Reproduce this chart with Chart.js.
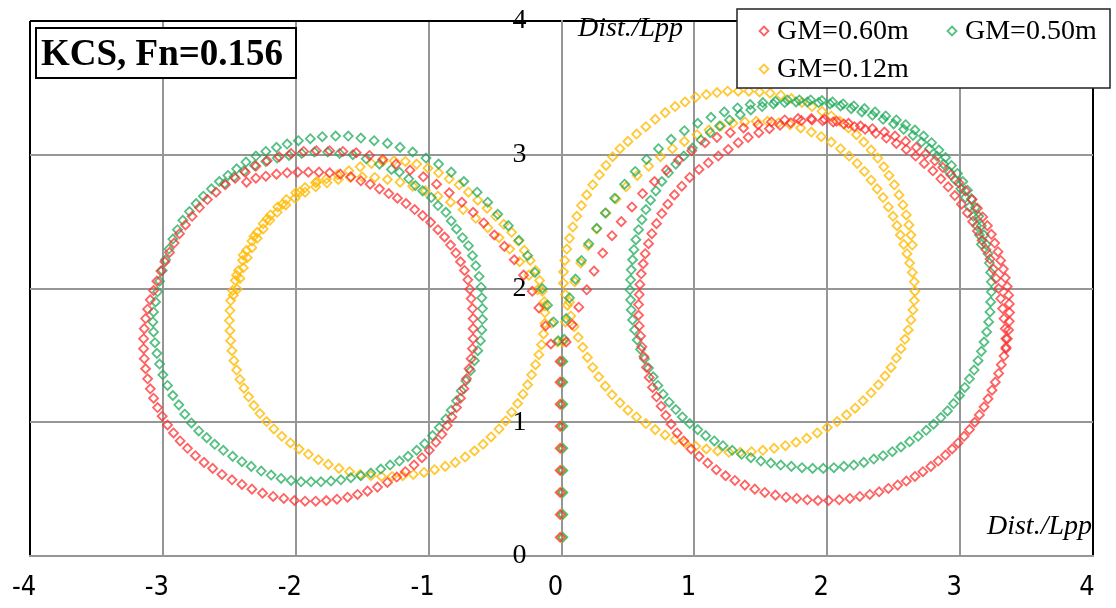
<!DOCTYPE html>
<html><head><meta charset="utf-8">
<script src="https://cdn.jsdelivr.net/npm/chart.js@4"></script>
<style>html,body{margin:0;padding:0;background:#fff;}canvas{display:block;}</style>
</head><body>
<canvas id="c" width="1116" height="608"></canvas>
<script>
// ---------- DATA ----------
const seriesNames = ['GM=0.60m', 'GM=0.50m', 'GM=0.12m'];
const titleText = 'KCS, Fn=0.156';
const axisTitle = 'Dist./Lpp';
const xTicks = [-4, -3, -2, -1, 0, 1, 2, 3, 4];
const yTicks = [0, 1, 2, 3, 4];

// straight approach (x, y)
const gm060_approach = [[-0.01,0.14],[-0.01,0.31],[-0.01,0.475],[-0.01,0.64],[-0.01,0.805],[-0.01,0.97],[-0.01,1.135],[-0.01,1.30],[-0.01,1.455]];
const gm050_approach = [[0.01,0.14],[0.01,0.31],[0.01,0.475],[0.01,0.64],[0.01,0.805],[0.01,0.97],[0.01,1.135],[0.01,1.30],[0.01,1.455]];
const gm012_approach = [[0,0.14],[0,0.31],[0,0.475],[0,0.64],[0,0.805],[0,0.97],[0,1.135],[0,1.30],[0,1.455]];

// starboard turn (right loop)
const gm060_stbd = [[0.035,1.60],[0.08,1.73],[0.13,1.86],[0.19,1.99],[0.245,2.13],[0.31,2.265],[0.38,2.395],[0.45,2.50],[0.53,2.61],[0.61,2.71],[0.70,2.80],[0.79,2.885],[0.88,2.96],[0.98,3.03],[1.08,3.09],[1.17,3.13],[1.27,3.165],[1.37,3.20],[1.48,3.225],[1.58,3.245],[1.68,3.26],[1.78,3.27],[1.88,3.27],[1.98,3.265],[2.07,3.25],[2.16,3.235],[2.25,3.215],[2.34,3.195],[2.43,3.17],[2.51,3.14],[2.59,3.10],[2.67,3.055],[2.74,3.005],[2.81,2.955],[2.87,2.905],[2.93,2.85],[2.99,2.79],[3.04,2.73],[3.09,2.665],[3.13,2.60],[3.17,2.535],[3.205,2.47],[3.235,2.405],[3.26,2.34],[3.285,2.275],[3.305,2.21],[3.325,2.145],[3.34,2.08],[3.355,2.015],[3.365,1.95],[3.37,1.885],[3.372,1.82],[3.37,1.755],[3.365,1.69],[3.355,1.625],[3.345,1.56],[3.33,1.495],[3.31,1.43],[3.29,1.365],[3.265,1.30],[3.24,1.24],[3.21,1.175],[3.18,1.115],[3.145,1.055],[3.11,1.0],[3.07,0.945],[3.03,0.895],[2.985,0.845],[2.94,0.80],[2.89,0.755],[2.835,0.71],[2.78,0.67],[2.72,0.63],[2.66,0.595],[2.595,0.56],[2.53,0.53],[2.46,0.505],[2.39,0.48],[2.32,0.46],[2.245,0.445],[2.17,0.43],[2.09,0.42],[2.01,0.415],[1.93,0.415],[1.85,0.42],[1.77,0.43],[1.69,0.44],[1.61,0.455],[1.53,0.475],[1.455,0.50],[1.38,0.53],[1.305,0.565],[1.235,0.60],[1.165,0.645],[1.10,0.695],[1.035,0.745],[0.975,0.80],[0.92,0.86],[0.87,0.92],[0.825,0.985],[0.785,1.05],[0.75,1.12],[0.715,1.19],[0.685,1.26],[0.66,1.335],[0.64,1.41],[0.62,1.49],[0.605,1.565],[0.595,1.645],[0.585,1.72],[0.58,1.80],[0.58,1.88],[0.585,1.955],[0.59,2.03],[0.60,2.11],[0.615,2.185],[0.63,2.26],[0.655,2.335],[0.68,2.41],[0.715,2.485],[0.755,2.56],[0.80,2.63],[0.85,2.70],[0.905,2.765],[0.965,2.83],[1.035,2.89],[1.105,2.94],[1.18,2.99],[1.255,3.04],[1.33,3.09],[1.405,3.13],[1.485,3.165],[1.565,3.195],[1.645,3.22],[1.725,3.24],[1.805,3.255],[1.885,3.26],[1.965,3.255],[2.045,3.245],[2.125,3.23],[2.205,3.21],[2.285,3.19],[2.365,3.16],[2.445,3.125],[2.52,3.085],[2.595,3.04],[2.665,2.99],[2.73,2.935],[2.795,2.88],[2.855,2.82],[2.91,2.76],[2.96,2.695],[3.01,2.63],[3.055,2.565],[3.095,2.50],[3.13,2.43],[3.165,2.36],[3.195,2.29],[3.225,2.22],[3.25,2.145],[3.27,2.075],[3.29,2.0],[3.305,1.925],[3.32,1.85],[3.33,1.775],[3.34,1.70],[3.345,1.625],[3.345,1.55]];

const gm050_stbd = [[0.02,1.62],[0.035,1.775],[0.06,1.93],[0.105,2.07],[0.15,2.21],[0.205,2.335],[0.265,2.45],[0.33,2.565],[0.40,2.675],[0.475,2.78],[0.555,2.875],[0.64,2.965],[0.73,3.045],[0.825,3.115],[0.925,3.18],[1.025,3.235],[1.125,3.28],[1.225,3.32],[1.325,3.35],[1.42,3.375],[1.515,3.39],[1.61,3.40],[1.70,3.41],[1.79,3.41],[1.875,3.41],[1.96,3.405],[2.04,3.395],[2.12,3.38],[2.20,3.365],[2.28,3.345],[2.36,3.32],[2.44,3.29],[2.52,3.26],[2.59,3.225],[2.66,3.185],[2.725,3.14],[2.785,3.09],[2.84,3.035],[2.89,2.98],[2.935,2.92],[2.98,2.86],[3.02,2.80],[3.055,2.735],[3.085,2.67],[3.115,2.605],[3.14,2.54],[3.16,2.47],[3.18,2.40],[3.195,2.33],[3.21,2.26],[3.22,2.19],[3.23,2.12],[3.235,2.05],[3.235,1.975],[3.23,1.90],[3.225,1.825],[3.215,1.75],[3.20,1.675],[3.18,1.60],[3.16,1.53],[3.135,1.46],[3.105,1.39],[3.07,1.325],[3.035,1.26],[2.995,1.20],[2.95,1.14],[2.905,1.085],[2.855,1.035],[2.80,0.985],[2.745,0.94],[2.685,0.895],[2.62,0.855],[2.555,0.815],[2.49,0.78],[2.42,0.75],[2.35,0.725],[2.275,0.70],[2.20,0.68],[2.125,0.67],[2.05,0.66],[1.97,0.655],[1.89,0.655],[1.81,0.66],[1.73,0.67],[1.65,0.68],[1.575,0.695],[1.50,0.71],[1.425,0.735],[1.355,0.76],[1.285,0.79],[1.215,0.825],[1.15,0.86],[1.085,0.90],[1.025,0.945],[0.965,0.99],[0.91,1.04],[0.86,1.095],[0.81,1.15],[0.765,1.21],[0.725,1.275],[0.69,1.34],[0.655,1.405],[0.625,1.475],[0.595,1.545],[0.57,1.615],[0.55,1.69],[0.535,1.765],[0.525,1.84],[0.52,1.915],[0.515,1.99],[0.52,2.065],[0.525,2.14],[0.535,2.215],[0.545,2.29],[0.56,2.365],[0.58,2.44],[0.605,2.515],[0.635,2.59],[0.67,2.66],[0.71,2.73],[0.755,2.80],[0.805,2.865],[0.86,2.93],[0.92,2.99],[0.985,3.05],[1.05,3.11],[1.12,3.165],[1.19,3.215],[1.265,3.26],[1.345,3.30],[1.425,3.335],[1.51,3.36],[1.595,3.38],[1.68,3.39],[1.765,3.395],[1.85,3.395],[1.935,3.39],[2.02,3.38],[2.10,3.365],[2.18,3.345],[2.26,3.32],[2.34,3.295],[2.42,3.265],[2.50,3.23],[2.575,3.19],[2.645,3.145],[2.71,3.095],[2.77,3.045],[2.825,2.99],[2.875,2.93],[2.92,2.87],[2.965,2.81],[3.005,2.745],[3.04,2.68],[3.07,2.61],[3.10,2.54],[3.125,2.47],[3.145,2.40],[3.16,2.33]];

const gm012_stbd = [[0.01,1.60],[0.03,1.75],[0.06,1.90],[0.10,2.05],[0.145,2.19],[0.20,2.32],[0.265,2.445],[0.335,2.565],[0.41,2.67],[0.485,2.76],[0.57,2.845],[0.655,2.915],[0.745,2.985],[0.835,3.045],[0.925,3.10],[1.02,3.15],[1.11,3.185],[1.20,3.215],[1.29,3.235],[1.38,3.245],[1.465,3.25],[1.55,3.25],[1.635,3.24],[1.72,3.225],[1.80,3.20],[1.88,3.17],[1.955,3.135],[2.03,3.095],[2.10,3.045],[2.165,2.99],[2.225,2.935],[2.28,2.875],[2.33,2.81],[2.375,2.745],[2.42,2.68],[2.46,2.61],[2.495,2.54],[2.525,2.47],[2.55,2.40],[2.575,2.33],[2.60,2.26],[2.62,2.19],[2.64,2.12],[2.655,2.05],[2.66,1.98],[2.655,1.91],[2.645,1.84],[2.63,1.765],[2.61,1.69],[2.585,1.62],[2.555,1.55],[2.52,1.48],[2.48,1.41],[2.435,1.345],[2.385,1.28],[2.33,1.22],[2.27,1.16],[2.21,1.105],[2.145,1.055],[2.075,1.005],[2.00,0.96],[1.925,0.92],[1.845,0.88],[1.765,0.85],[1.685,0.825],[1.60,0.805],[1.515,0.79],[1.43,0.78],[1.345,0.775],[1.26,0.775],[1.175,0.785],[1.09,0.80],[1.01,0.82],[0.93,0.845],[0.855,0.87],[0.78,0.905],[0.705,0.945],[0.635,0.99],[0.565,1.04],[0.50,1.09],[0.44,1.145],[0.38,1.205],[0.33,1.27],[0.28,1.34],[0.235,1.41],[0.195,1.485],[0.16,1.56],[0.125,1.635],[0.095,1.715],[0.07,1.795],[0.045,1.875],[0.03,1.955],[0.015,2.04],[0.015,2.125],[0.025,2.21],[0.04,2.295],[0.06,2.375],[0.085,2.46],[0.115,2.54],[0.15,2.62],[0.19,2.70],[0.235,2.775],[0.285,2.85],[0.335,2.92],[0.385,2.985],[0.44,3.045],[0.50,3.10],[0.565,3.155],[0.635,3.21],[0.705,3.265],[0.78,3.315],[0.855,3.36],[0.93,3.395],[1.01,3.43],[1.09,3.45],[1.17,3.465],[1.25,3.475],[1.33,3.475],[1.41,3.475],[1.49,3.47],[1.57,3.46],[1.65,3.445],[1.73,3.42],[1.81,3.39],[1.885,3.36],[1.96,3.325],[2.03,3.29],[2.095,3.25],[2.16,3.20],[2.22,3.15],[2.275,3.095],[2.33,3.035],[2.38,2.975],[2.425,2.91],[2.465,2.845],[2.505,2.775],[2.54,2.70],[2.57,2.625],[2.595,2.55],[2.615,2.475],[2.63,2.40],[2.64,2.325]];

// port turn (left loop)
const gm060_port = [[-0.08,1.585],[-0.12,1.72],[-0.17,1.855],[-0.22,1.98],[-0.285,2.10],[-0.355,2.215],[-0.43,2.315],[-0.505,2.40],[-0.585,2.49],[-0.665,2.57],[-0.75,2.645],[-0.845,2.715],[-0.94,2.78],[-1.04,2.835],[-1.14,2.885],[-1.245,2.93],[-1.345,2.965],[-1.445,2.995],[-1.545,3.015],[-1.645,3.025],[-1.745,3.03],[-1.845,3.03],[-1.94,3.025],[-2.035,3.01],[-2.125,2.985],[-2.215,2.955],[-2.30,2.915],[-2.38,2.87],[-2.455,2.825],[-2.53,2.775],[-2.60,2.72],[-2.665,2.665],[-2.725,2.605],[-2.78,2.54],[-2.83,2.475],[-2.875,2.41],[-2.915,2.34],[-2.95,2.27],[-2.985,2.20],[-3.015,2.13],[-3.045,2.055],[-3.07,1.985],[-3.095,1.915],[-3.115,1.845],[-3.13,1.775],[-3.14,1.70],[-3.145,1.625],[-3.145,1.55],[-3.14,1.475],[-3.13,1.40],[-3.115,1.325],[-3.095,1.25],[-3.07,1.18],[-3.04,1.11],[-3.005,1.045],[-2.965,0.98],[-2.92,0.92],[-2.87,0.86],[-2.815,0.805],[-2.755,0.75],[-2.69,0.70],[-2.625,0.655],[-2.555,0.61],[-2.48,0.57],[-2.405,0.535],[-2.33,0.50],[-2.25,0.47],[-2.17,0.445],[-2.09,0.43],[-2.01,0.415],[-1.93,0.41],[-1.85,0.41],[-1.77,0.415],[-1.69,0.425],[-1.61,0.44],[-1.535,0.46],[-1.46,0.485],[-1.385,0.515],[-1.31,0.55],[-1.24,0.59],[-1.175,0.63],[-1.11,0.68],[-1.05,0.735],[-0.995,0.79],[-0.945,0.85],[-0.90,0.91],[-0.86,0.975],[-0.825,1.04],[-0.79,1.11],[-0.76,1.18],[-0.735,1.25],[-0.715,1.325],[-0.695,1.40],[-0.68,1.475],[-0.67,1.55],[-0.665,1.625],[-0.665,1.70],[-0.665,1.775],[-0.67,1.85],[-0.68,1.925],[-0.69,1.995],[-0.705,2.065],[-0.73,2.135],[-0.76,2.20],[-0.795,2.265],[-0.835,2.325],[-0.88,2.385],[-0.93,2.44],[-0.985,2.495],[-1.045,2.545],[-1.105,2.59],[-1.17,2.635],[-1.235,2.675],[-1.30,2.71],[-1.37,2.745],[-1.44,2.78],[-1.51,2.805],[-1.585,2.835],[-1.665,2.855],[-1.745,2.865],[-1.825,2.87],[-1.905,2.87],[-1.985,2.87],[-2.065,2.865],[-2.145,2.855],[-2.225,2.84],[-2.30,2.825],[-2.37,2.795]];

const gm050_port = [[-0.025,1.61],[-0.06,1.75],[-0.105,1.875],[-0.145,2.0],[-0.20,2.12],[-0.255,2.245],[-0.32,2.36],[-0.40,2.47],[-0.48,2.555],[-0.555,2.645],[-0.635,2.72],[-0.735,2.80],[-0.83,2.87],[-0.925,2.93],[-1.02,2.975],[-1.12,3.02],[-1.215,3.055],[-1.31,3.085],[-1.41,3.105],[-1.51,3.125],[-1.605,3.14],[-1.70,3.14],[-1.80,3.135],[-1.89,3.12],[-1.98,3.105],[-2.065,3.08],[-2.145,3.055],[-2.225,3.025],[-2.30,2.99],[-2.375,2.945],[-2.445,2.895],[-2.51,2.845],[-2.575,2.80],[-2.635,2.745],[-2.695,2.69],[-2.75,2.635],[-2.80,2.575],[-2.85,2.51],[-2.89,2.44],[-2.925,2.37],[-2.955,2.295],[-2.98,2.215],[-3.005,2.135],[-3.025,2.055],[-3.04,1.975],[-3.055,1.90],[-3.07,1.825],[-3.075,1.75],[-3.07,1.675],[-3.06,1.595],[-3.045,1.515],[-3.025,1.435],[-3.0,1.355],[-2.965,1.275],[-2.925,1.20],[-2.88,1.13],[-2.835,1.06],[-2.785,0.995],[-2.73,0.935],[-2.67,0.885],[-2.61,0.835],[-2.545,0.79],[-2.475,0.745],[-2.405,0.705],[-2.335,0.67],[-2.26,0.635],[-2.185,0.605],[-2.11,0.58],[-2.035,0.565],[-1.96,0.555],[-1.885,0.555],[-1.81,0.555],[-1.735,0.56],[-1.66,0.57],[-1.585,0.585],[-1.51,0.60],[-1.435,0.62],[-1.36,0.65],[-1.29,0.68],[-1.22,0.71],[-1.155,0.745],[-1.09,0.79],[-1.03,0.84],[-0.97,0.90],[-0.92,0.96],[-0.87,1.025],[-0.83,1.09],[-0.79,1.16],[-0.755,1.235],[-0.72,1.31],[-0.685,1.385],[-0.655,1.46],[-0.63,1.535],[-0.61,1.61],[-0.60,1.69],[-0.595,1.77],[-0.595,1.85],[-0.60,1.93],[-0.605,2.01],[-0.62,2.09],[-0.645,2.17],[-0.67,2.245],[-0.70,2.32],[-0.745,2.38],[-0.79,2.445],[-0.83,2.505],[-0.87,2.57],[-0.93,2.62],[-0.98,2.68],[-1.045,2.73],[-1.10,2.77],[-1.15,2.82],[-1.22,2.87],[-1.28,2.89],[-1.37,2.93],[-1.47,2.97],[-1.57,3.00],[-1.67,3.01],[-1.76,3.02],[-1.86,3.02],[-1.955,3.01],[-2.05,2.995],[-2.14,2.975],[-2.225,2.95],[-2.31,2.92],[-2.39,2.88],[-2.465,2.835],[-2.535,2.785]];

const gm012_port = [[-0.03,1.60],[-0.075,1.74],[-0.125,1.87],[-0.18,1.99],[-0.245,2.10],[-0.315,2.20],[-0.39,2.295],[-0.47,2.38],[-0.555,2.455],[-0.645,2.525],[-0.74,2.59],[-0.835,2.645],[-0.93,2.69],[-1.025,2.73],[-1.12,2.765],[-1.215,2.795],[-1.31,2.815],[-1.405,2.83],[-1.50,2.835],[-1.59,2.83],[-1.68,2.815],[-1.765,2.79],[-1.85,2.76],[-1.93,2.72],[-2.005,2.675],[-2.075,2.625],[-2.14,2.57],[-2.195,2.51],[-2.245,2.445],[-2.29,2.375],[-2.33,2.305],[-2.365,2.23],[-2.395,2.155],[-2.42,2.075],[-2.44,1.995],[-1.77,2.82],[-1.85,2.79],[-1.93,2.755],[-2.0,2.715],[-2.07,2.665],[-2.135,2.61],[-2.19,2.55],[-2.245,2.485],[-2.29,2.42],[-2.33,2.355],[-2.37,2.285],[-2.40,2.21],[-2.43,2.135],[-2.455,2.06],[-2.475,1.985],[-2.49,1.91],[-2.495,1.835],[-2.50,1.76],[-2.495,1.685],[-2.49,1.61],[-2.48,1.535],[-2.465,1.46],[-2.445,1.39],[-2.42,1.32],[-2.39,1.255],[-2.355,1.19],[-2.315,1.125],[-2.27,1.065],[-2.22,1.005],[-2.165,0.95],[-2.105,0.895],[-2.04,0.845],[-1.975,0.80],[-1.905,0.76],[-1.83,0.72],[-1.755,0.685],[-1.675,0.655],[-1.595,0.63],[-1.515,0.61],[-1.435,0.60],[-1.355,0.595],[-1.275,0.595],[-1.195,0.60],[-1.115,0.61],[-1.035,0.625],[-0.955,0.645],[-0.875,0.67],[-0.80,0.70],[-0.725,0.74],[-0.655,0.785],[-0.59,0.835],[-0.53,0.89],[-0.47,0.95],[-0.42,1.01],[-0.375,1.075],[-0.33,1.14],[-0.29,1.21],[-0.255,1.28],[-0.225,1.355],[-0.195,1.43],[-0.17,1.505],[-0.15,1.58],[-0.135,1.66],[-0.125,1.74],[-0.125,1.82],[-0.13,1.90],[-0.145,1.98],[-0.165,2.06],[-0.195,2.135],[-0.235,2.21],[-0.28,2.285],[-0.325,2.355],[-0.375,2.42],[-0.435,2.48],[-0.495,2.54],[-0.56,2.60],[-0.63,2.66],[-0.70,2.72],[-0.77,2.775],[-0.845,2.82],[-0.925,2.865],[-1.005,2.90],[-1.09,2.93],[-1.175,2.95],[-1.26,2.955],[-1.345,2.95],[-1.43,2.935],[-1.515,2.91],[-1.60,2.88],[-1.685,2.85],[-2.47,1.95],[-2.445,2.10],[-2.395,2.25],[-2.315,2.39],[-2.215,2.52],[-2.10,2.63],[-1.97,2.72],[-1.84,2.80]];

const seriesColors = ['rgba(255,45,45,0.75)', 'rgba(30,170,90,0.75)', 'rgba(255,188,10,0.82)'];

// ---------- CHART ----------
const toPts = arr => arr.map(([x, y]) => ({x, y}));
const allSeries = [
  [...gm060_approach, ...gm060_stbd, ...gm060_port],
  [...gm050_approach, ...gm050_stbd, ...gm050_port],
  [...gm012_approach, ...gm012_stbd, ...gm012_port]
];
const gridGray = 'rgb(150,150,150)';

const overlay = {
  id: 'overlay',
  afterDraw(chart) {
    const ctx = chart.ctx;
    ctx.save();
    // title box
    ctx.fillStyle = '#fff';
    ctx.fillRect(36, 28, 260, 50);
    ctx.lineWidth = 2;
    ctx.strokeStyle = '#000';
    ctx.strokeRect(36, 28, 260, 50);
    ctx.fillStyle = '#000';
    ctx.font = 'bold 37px "Liberation Serif", "Times New Roman", serif';
    ctx.textBaseline = 'middle';
    ctx.textAlign = 'left';
    ctx.fillText(titleText, 41, 55);

    // axis titles
    ctx.font = 'italic 28px "Liberation Serif", "Times New Roman", serif';
    ctx.textAlign = 'left';
    ctx.fillText(axisTitle, 578, 29);
    ctx.textAlign = 'right';
    ctx.fillText(axisTitle, 1092, 527);

    // legend box
    ctx.fillStyle = '#fff';
    ctx.fillRect(737, 9, 373, 79);
    ctx.lineWidth = 1.5;
    ctx.strokeStyle = '#222';
    ctx.strokeRect(737, 9, 373, 79);
    const items = [[764, 31], [952, 31], [764, 69]];
    ctx.font = '28px "Liberation Serif", "Times New Roman", serif';
    ctx.textAlign = 'left';
    items.forEach(([lx, ly], i) => {
      ctx.beginPath();
      ctx.moveTo(lx, ly - 4.5); ctx.lineTo(lx + 4.5, ly); ctx.lineTo(lx, ly + 4.5); ctx.lineTo(lx - 4.5, ly); ctx.closePath();
      ctx.lineWidth = 1.8;
      ctx.strokeStyle = seriesColors[i];
      ctx.stroke();
      ctx.fillStyle = '#000';
      ctx.fillText(seriesNames[i], lx + 13, ly + 1);
    });
    ctx.restore();
  }
};

new Chart(document.getElementById('c'), {
  type: 'scatter',
  data: {
    datasets: allSeries.map((pts, i) => ({
      label: seriesNames[i],
      data: toPts(pts),
      showLine: false,
      pointStyle: 'rectRot',
      pointRadius: 4.5,
      pointBorderWidth: 1.8,
      pointBorderColor: seriesColors[i],
      pointBackgroundColor: 'rgba(255,255,255,0)'
    }))
  },
  options: {
    responsive: false,
    devicePixelRatio: 1,
    animation: false,
    events: [],
    layout: { padding: { left: 30, right: 23, top: 21, bottom: 5 } },
    plugins: { legend: { display: false }, tooltip: { enabled: false } },
    scales: {
      x: {
        type: 'linear',
        position: 'bottom',
        min: xTicks[0],
        max: xTicks[xTicks.length - 1],
        afterFit: s => { s.paddingLeft = 0; s.paddingRight = 0; s.height = 47; },
        ticks: {
          stepSize: 1,
          padding: 16,
          labelOffset: -6,
          color: '#000',
          font: { family: '"Liberation Sans Narrow", "DejaVu Sans Condensed", "Arial Narrow", sans-serif', size: 27 }
        },
        grid: {
          drawTicks: false,
          lineWidth: 2,
          color: c => (c.tick && (c.tick.value === xTicks[0] || c.tick.value === xTicks[xTicks.length - 1])) ? '#000' : gridGray
        },
        border: { display: true, color: gridGray, width: 2 }
      },
      y: {
        type: 'linear',
        position: { x: 0 },
        min: yTicks[0],
        max: yTicks[yTicks.length - 1],
        afterFit: s => { s.paddingTop = 0; s.paddingBottom = 0; },
        ticks: {
          stepSize: 1,
          color: '#000',
          callback: v => String(v) + '     ',
          font: { family: '"Liberation Serif", "Times New Roman", serif', size: 28 }
        },
        grid: {
          drawTicks: false,
          lineWidth: 2,
          color: c => (c.tick && c.tick.value === yTicks[yTicks.length - 1]) ? '#000' : gridGray
        },
        border: { display: true, color: gridGray, width: 2 }
      }
    }
  },
  plugins: [overlay]
});
</script>
</body></html>
